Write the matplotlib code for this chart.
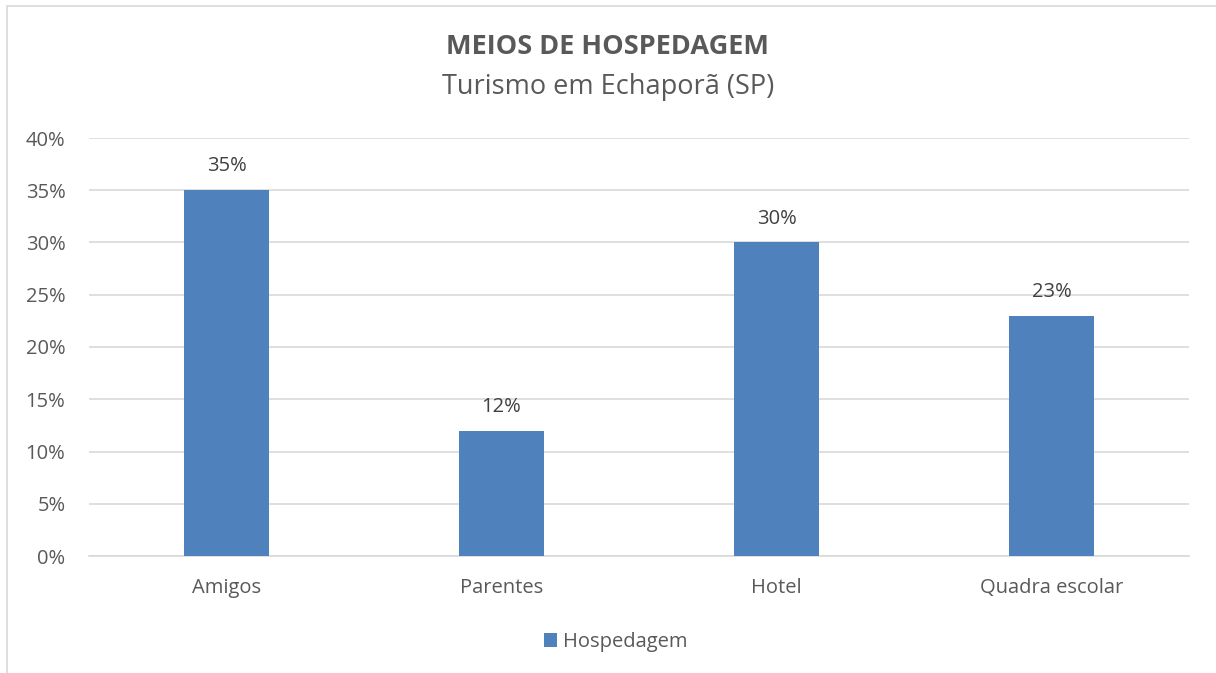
import matplotlib.pyplot as plt
from matplotlib.patches import Rectangle
from matplotlib.ticker import FuncFormatter, MultipleLocator

categories = ["Amigos", "Parentes", "Hotel", "Quadra escolar"]
values = [35, 12, 30, 23]
series_name = "Hospedagem"

BAR_COLOR = "#4f81bd"
TEXT_COLOR = "#595959"
GRID_COLOR = "#d9d9d9"

plt.rcParams["font.family"] = ["Open Sans", "DejaVu Sans"]

fig = plt.figure(figsize=(12.16, 6.73), dpi=100)
fig.patch.set_facecolor("white")

# chart frame
frame = Rectangle(
    (7 / 1216, -0.05), 1.05, 1.05 - 6 / 673,
    transform=fig.transFigure, fill=False, edgecolor=GRID_COLOR, linewidth=1.2,
)
fig.patches.append(frame)

ax = fig.add_axes([89 / 1216, 117 / 673, 1100 / 1216, 418 / 673])
x = range(len(categories))
bars = ax.bar(x, values, width=0.31, color=BAR_COLOR, label=series_name, zorder=3)

for rect, v in zip(bars, values):
    ax.annotate(
        f"{v}%",
        xy=(rect.get_x() + rect.get_width() / 2, v),
        xytext=(0, 10),
        textcoords="offset points",
        ha="center",
        va="bottom",
        fontsize=14.5,
        color="#404040",
    )

ax.set_xlim(-0.5, len(categories) - 0.5)
ax.set_ylim(0, 40)
ax.yaxis.set_major_locator(MultipleLocator(5))
ax.yaxis.set_major_formatter(FuncFormatter(lambda v, _: f"{v:.0f}%"))
ax.set_xticks(list(x))
ax.set_xticklabels(categories)
ax.tick_params(axis="both", length=0, labelsize=14.5, labelcolor=TEXT_COLOR)
ax.tick_params(axis="x", pad=16)
ax.tick_params(axis="y", pad=17)
ax.grid(axis="y", color=GRID_COLOR, linewidth=1.2, zorder=0)
for side in ["top", "right", "left"]:
    ax.spines[side].set_visible(False)
ax.spines["bottom"].set_color(GRID_COLOR)
ax.spines["bottom"].set_linewidth(1.2)

fig.text(0.5, 1 - 47 / 673, "MEIOS DE HOSPEDAGEM", ha="center", va="center",
         fontsize=19.5, fontweight="bold", color=TEXT_COLOR)
fig.text(0.5, 1 - 87 / 673, "Turismo em Echaporã (SP)", ha="center", va="center",
         fontsize=19.5, color=TEXT_COLOR)

fig.legend(
    loc="center", bbox_to_anchor=(616 / 1216, 1 - 642 / 673),
    frameon=False, fontsize=14.5, labelcolor=TEXT_COLOR,
    handlelength=0.65, handleheight=0.65, handletextpad=0.3,
)

fig.savefig("out.png", dpi=100)
